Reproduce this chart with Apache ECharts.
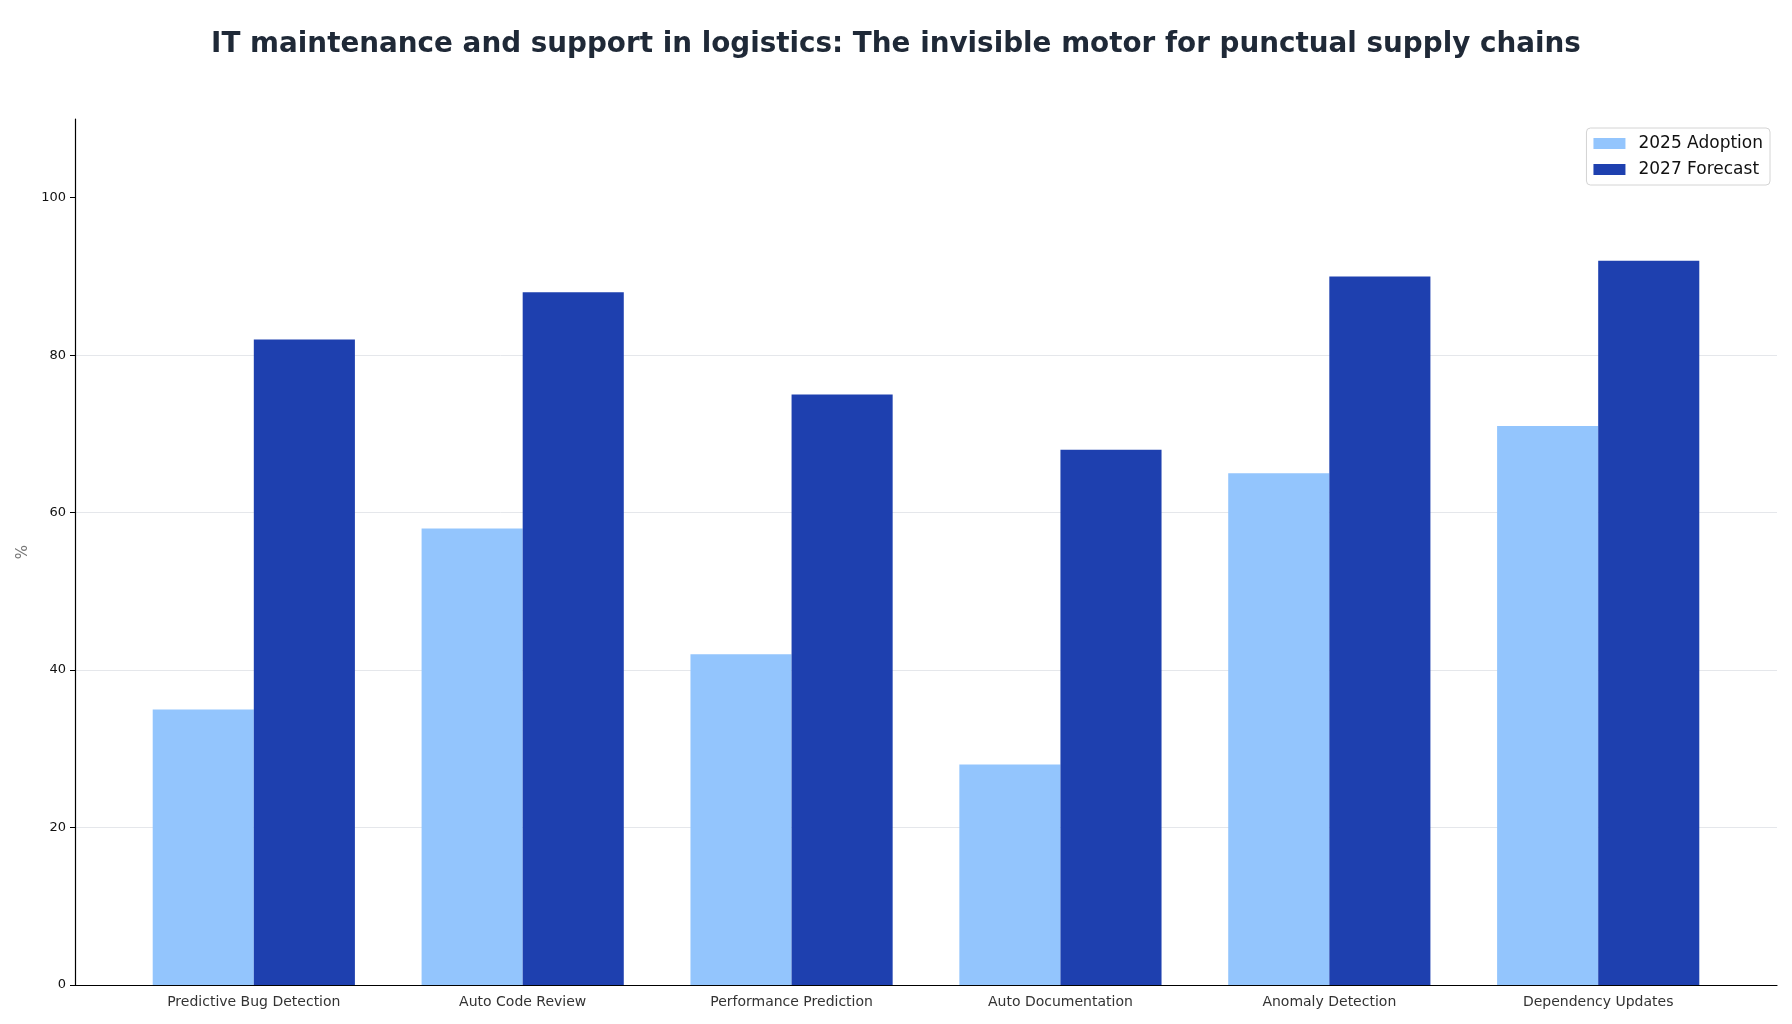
<!DOCTYPE html>
<html lang="en">
<head>
<meta charset="UTF-8">
<title>IT maintenance and support in logistics</title>
<script src="https://cdn.jsdelivr.net/npm/echarts@6/dist/echarts.min.js"></script>
<style>
  html, body { margin: 0; padding: 0; background: #ffffff; }
  #chart { width: 1792px; height: 1024px; }
</style>
</head>
<body>
<div id="chart"></div>
<script>
// data
var categories = ['Predictive Bug Detection', 'Auto Code Review', 'Performance Prediction',
                  'Auto Documentation', 'Anomaly Detection', 'Dependency Updates'];
var adoption2025 = [35, 58, 42, 28, 65, 71];
var forecast2027 = [82, 88, 75, 68, 90, 92];
var seriesNames = ['2025 Adoption', '2027 Forecast'];
var yTicks = [0, 20, 40, 60, 80, 100];
var xPositions = [0, 1, 2, 3, 4, 5];

var FONT = 'DejaVu Sans, sans-serif';

// bars sit on a value axis (x = category index) so the padding at both ends matches
function pairs(vals) {
  return vals.map(function (v, i) { return [xPositions[i], v]; });
}

var chart = echarts.init(document.getElementById('chart'));
var option = {
  backgroundColor: '#ffffff',
  animation: false,
  title: {
    text: 'IT maintenance and support in logistics: The invisible motor for punctual supply chains',
    left: 'center',
    top: 26,
    textStyle: { fontFamily: FONT, fontSize: 27.8, fontWeight: 'bold', color: '#1f2937' }
  },
  legend: {
    data: seriesNames,
    orient: 'vertical',
    right: 22,
    top: 128,
    icon: 'rect',
    itemWidth: 32,
    itemHeight: 11,
    itemGap: 9,
    padding: [7, 7, 7, 7],
    borderColor: '#d4d4d4',
    borderWidth: 1,
    borderRadius: 4,
    textStyle: { fontFamily: FONT, fontSize: 17, color: '#111111', padding: [0, 0, 0, 8] }
  },
  grid: { left: 75, right: 15, top: 119, bottom: 39, containLabel: false },
  xAxis: {
    type: 'value',
    min: -0.665,
    max: 5.665,
    axisLine: { show: true, onZero: false, lineStyle: { color: '#000000', width: 1.2 } },
    axisTick: { show: false },
    splitLine: { show: false },
    axisLabel: {
      customValues: xPositions,
      fontFamily: FONT, fontSize: 14, color: '#333333', margin: 10,
      formatter: function (v) { return categories[Math.round(v)]; }
    }
  },
  yAxis: {
    type: 'value',
    min: 0,
    max: 110,
    interval: 20,
    name: '%',
    nameLocation: 'middle',
    nameGap: 43,
    nameTextStyle: { fontFamily: FONT, fontSize: 15, color: '#777777' },
    axisLine: { show: true, onZero: false, lineStyle: { color: '#000000', width: 1.2 } },
    axisTick: { show: true, length: 5, customValues: yTicks, lineStyle: { color: '#000000' } },
    axisLabel: { customValues: yTicks, fontFamily: FONT, fontSize: 13, color: '#111111', margin: 9 },
    splitLine: { show: true, showMaxLine: false, lineStyle: { color: '#e5e7eb', width: 1 } }
  },
  series: [
    {
      name: seriesNames[0],
      type: 'bar',
      data: pairs(adoption2025),
      barWidth: '37.6%',
      barGap: '0%',
      itemStyle: { color: '#93c5fd' }
    },
    {
      name: seriesNames[1],
      type: 'bar',
      data: pairs(forecast2027),
      barWidth: '37.6%',
      barGap: '0%',
      itemStyle: { color: '#1e40af' }
    }
  ]
};
chart.setOption(option);
</script>
</body>
</html>
